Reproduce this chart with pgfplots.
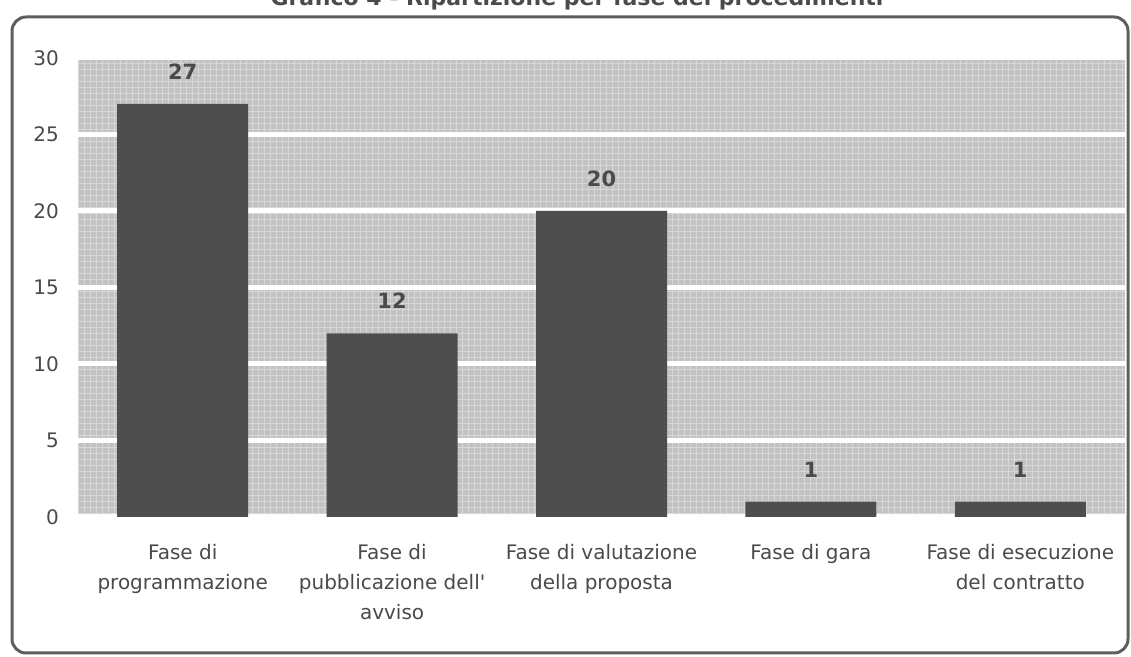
\documentclass[border=0pt]{standalone}
\usepackage{pgfplots}
\pgfplotsset{compat=1.18}
\usepackage{fontspec}
\setmainfont{DejaVu Sans}
\newfontfamily\lab{DejaVu Sans}
\usetikzlibrary{patterns}
\definecolor{bgc}{HTML}{C2C2C2}
\definecolor{barc}{HTML}{4E4E4E}
\definecolor{txt}{HTML}{4A4A4A}
\definecolor{frm}{HTML}{5E5E5E}
\begin{document}
\begin{tikzpicture}[x=0.5pt,y=0.5pt]
\useasboundingbox (0,0) rectangle (1131,657);
\node[anchor=base, font=\lab\bfseries\fontsize{11}{13}\selectfont, text=txt, inner sep=0pt] at (577,651) {Grafico 4 - Ripartizione per fase dei procedimenti};
\draw[line width=1.5pt, color=frm, rounded corners=7pt] (12,4) rectangle (1128,640);
\begin{axis}[
  at={(39pt,70pt)}, anchor=south west,
  scale only axis, width=523.5pt, height=229.5pt,
  ymin=0, ymax=30, xmin=-0.5, xmax=4.5,
  ytick={0,5,...,30}, xtick={0,1,2,3,4},
  xticklabels={{Fase di\\programmazione},{Fase di\\pubblicazione dell'\\avviso},{Fase di valutazione\\della proposta},{Fase di gara},{Fase di esecuzione\\del contratto}},
  axis line style={draw=none},
  major tick length=0pt,
  ymajorgrids, grid style={white, line width=2.5pt},
  axis background/.style={fill=bgc, postaction={pattern=grid, pattern color=white!35!bgc}},
  ybar, bar width=65.5pt, bar shift=0pt,
  /pgf/number format/assume math mode=true,
  yticklabel style={font=\lab\fontsize{10}{12}\selectfont, text=txt, xshift=-6pt},
  xticklabel style={font=\lab\fontsize{10}{15}\selectfont, text=txt, align=center, anchor=north, yshift=-10pt},
  nodes near coords,
  nodes near coords style={font=\lab\bfseries\fontsize{10.5}{13}\selectfont, text=txt, anchor=south, inner sep=0pt, yshift=12pt},
]
\addplot[fill=barc, draw=none] coordinates {(0,27) (1,12) (2,20) (3,1) (4,1)};
\end{axis}
\end{tikzpicture}
\end{document}
